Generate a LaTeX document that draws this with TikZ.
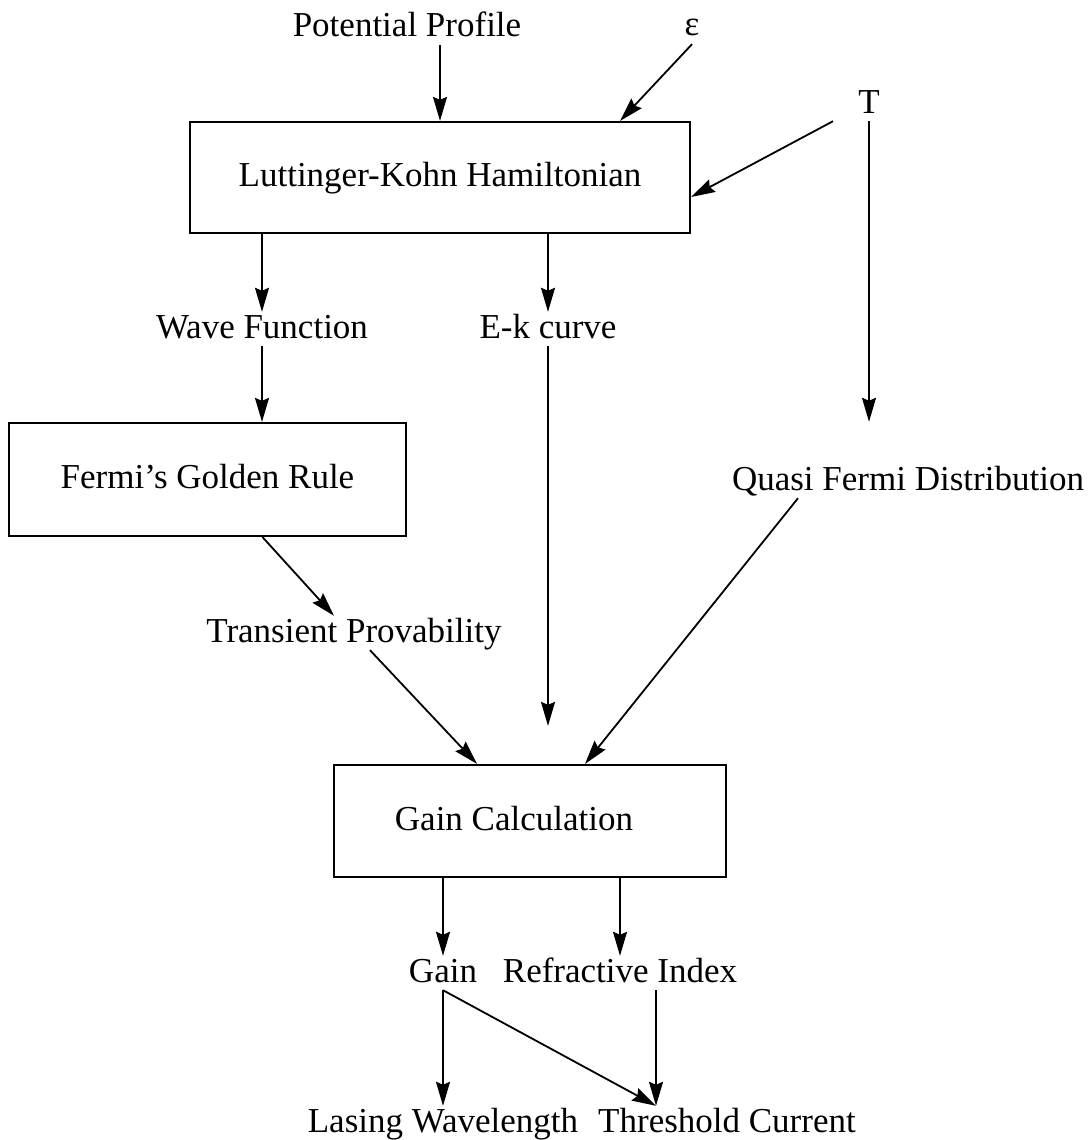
\documentclass[tikz,border=0pt]{standalone}
\usepackage{fontspec}
\setmainfont{Liberation Serif}
\usetikzlibrary{arrows.meta}
\begin{document}
\begin{tikzpicture}[x=1pt,y=-1pt,
  txt/.style={font=\fontsize{35}{40}\selectfont, text height=26pt, text depth=8pt, inner sep=0pt, anchor=base},
  boxnode/.style={draw, line width=2.2pt, minimum width=#1, inner sep=0pt,
     font=\fontsize{35}{40}\selectfont, text height=26pt, text depth=8pt},
  arr/.style={line width=1.8pt, -{Stealth[length=24pt,width=14pt,inset=3pt]}}
]
\useasboundingbox (0,0) rectangle (1090,1140);

% text nodes
\node[txt] (pp)  at (407,37)  {Potential Profile};
\node[txt] (eps) at (692,36)  {ε};
\node[txt] (T)   at (869,113) {T};
\node[txt] (wf)  at (262,338) {Wave Function};
\node[txt] (ek)  at (548,338) {E-k curve};
\node[txt] (qfd) at (908,490) {Quasi Fermi Distribution};
\node[txt] (tp)  at (354,642) {Transient Provability};
\node[txt] (gain) at (443,982) {Gain};
\node[txt] (ri)  at (620,982) {Refractive Index};
\node[txt] (lw)  at (443,1132) {Lasing Wavelength};
\node[txt] (tc)  at (727,1132) {Threshold Current};

% boxes
\node[boxnode=500pt, minimum height=111pt] (lk)  at (440,177.5) {Luttinger-Kohn Hamiltonian};
\node[boxnode=397pt, minimum height=113pt] (fgr) at (207.5,479.5) {Fermi's Golden Rule};
\node[boxnode=392pt, minimum height=112pt] (gc)  at (530,821) {Gain Calculation\kern32pt};

% connectors
\draw[arr] (pp.south -| lk.north) -- (lk.north);
\draw[arr] (eps.south) -- ([xshift=-71pt]lk.north east);
\draw[arr] ([xshift=-36pt]T.south) -- ([yshift=-19.5pt]lk.east);
\draw[arr, shorten >=42pt] (T.south) -- (qfd.north -| T.south);
\draw[arr] (wf.north |- lk.south) -- (wf.north);
\draw[arr] (ek.north |- lk.south) -- (ek.north);
\draw[arr] (wf.south) -- (fgr.north -| wf.south);
\draw[arr, shorten >=38pt] (ek.south) -- (gc.north -| ek.south);
\draw[arr] ([xshift=55pt]fgr.south) -- ([xshift=-20pt]tp.north);
\draw[arr] ([xshift=16pt]tp.south) -- ([xshift=-53pt]gc.north);
\draw[arr] ([xshift=-110pt]qfd.south) -- ([xshift=55pt]gc.north);
\draw[arr] (gain.north |- gc.south) -- (gain.north);
\draw[arr] (ri.north |- gc.south) -- (ri.north);
\draw[arr] (gain.south) -- (lw.north);
\draw[arr] (gain.south) -- ([xshift=-71pt]tc.north);
\draw[arr] ([xshift=36pt]ri.south) -- ([xshift=-71pt]tc.north);
\end{tikzpicture}
\end{document}
